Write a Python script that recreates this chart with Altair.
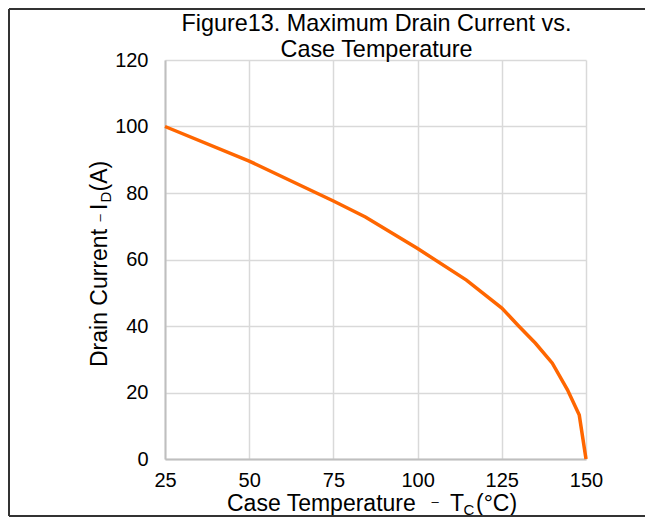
import altair as alt
import pandas as pd

# Data
temperature = [25, 50, 75, 84.5, 100, 114.5, 125, 130, 135, 140, 144.5, 148, 150]
current = [100, 89.6, 77.6, 72.8, 63.3, 53.8, 45.4, 40.0, 34.8, 28.8, 20.8, 13.2, 0]
x_ticks = [25, 50, 75, 100, 125, 150]
y_ticks = [0, 20, 40, 60, 80, 100, 120]

title_lines = ["Figure13. Maximum Drain Current vs.", "Case Temperature"]

FONT = "Liberation Sans"
W, H = 421, 399

df = pd.DataFrame({"T": temperature, "I": current})
one = pd.DataFrame({"k": [0]})

line = alt.Chart(df).mark_line(color="#FF6600", strokeWidth=3.5).encode(
    x=alt.X("T:Q", scale=alt.Scale(domain=[25, 150], nice=False, zero=False),
            axis=alt.Axis(values=x_ticks, title=None, labelPadding=11)),
    y=alt.Y("I:Q", scale=alt.Scale(domain=[0, 120], nice=False),
            axis=alt.Axis(values=y_ticks, title=None, labelPadding=17)),
)


def txt(text, x, y, size, align="left", baseline="alphabetic", angle=0):
    kw = dict(text=text, font=FONT, fontSize=size, align=align,
              baseline=baseline, color="black")
    if angle:
        kw["angle"] = angle
    return alt.Chart(one).mark_text(**kw).encode(x=alt.value(x), y=alt.value(y))


def rule(x, x2, y, y2):
    return alt.Chart(one).mark_rule(color="#333333", strokeWidth=2).encode(
        x=alt.value(x), x2=alt.value(x2), y=alt.value(y), y2=alt.value(y2))


layers = [
    line,
    # title
    txt(title_lines[0], W / 2 + 1, -29, 23.4, align="center"),
    txt(title_lines[1], W / 2 + 1, -3, 23.4, align="center"),
    # x axis title
    txt("Case Temperature", 62, 451, 23),
    txt("–", 270, 442, 13, align="center", baseline="middle"),
    txt("T", 285, 451, 23),
    txt("C", 298.5, 454.5, 15),
    txt("(°C)", 311, 451, 23),
    # y axis title
    txt("Drain Current", -58, 307, 23, angle=270),
    txt("–", -65, 158, 13, align="center", baseline="middle", angle=270),
    txt("I", -58, 150, 23, angle=270),
    txt("D", -54, 142.5, 15, angle=270),
    txt("(A)", -58, 131.5, 23, angle=270),
    # frame
    rule(-156, 500, -51, -51),
    rule(-156, -156, -51, 456),
    rule(-156, 500, 456, 456),
]

chart = alt.layer(*layers).properties(
    width=W, height=H,
    padding={"left": 157, "top": 52, "right": 59, "bottom": 58},
    autosize=alt.AutoSizeParams(type="none"),
).configure_view(stroke=None).configure_axis(
    labelFont=FONT, labelFontSize=20, labelColor="black",
    ticks=False, domainColor="#bfbfbf", domainWidth=2,
    gridColor="#d9d9d9", gridWidth=1.5,
    labelFlush=False, labelOverlap=False, labelBound=False,
)

chart.save("out.html", embed_options={"renderer": "svg", "actions": False})
